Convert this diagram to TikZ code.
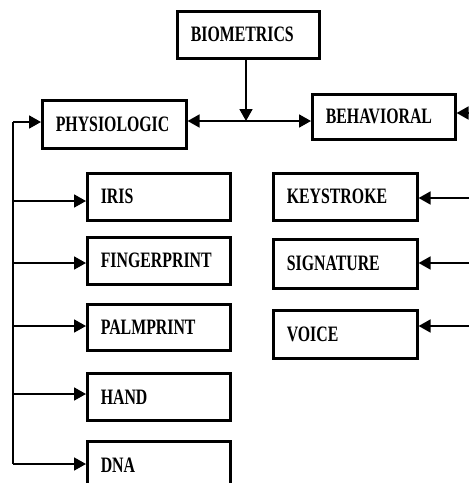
\documentclass[tikz,border=0pt]{standalone}
\usepackage{fontspec}
\newfontfamily\boxfont{Liberation Serif}[FakeStretch=0.72]
\usetikzlibrary{arrows.meta}
\begin{document}
\begin{tikzpicture}[x=1pt,y=-1pt,
  catbox/.style n args={2}{draw, line width=2.6pt, anchor=north west,
    minimum height=#2, text width=#1-27pt, inner xsep=13.5pt, inner ysep=0pt,
    align=left, font=\boxfont\bfseries\fontsize{22}{24}\selectfont},
  link/.style={line width=1.8pt, -{Triangle[length=12pt,width=13pt]}},
  plain/.style={line width=1.8pt}]
\useasboundingbox (0,0) rectangle (469,483);

% top level
\node[catbox={142pt}{47pt}] (bio) at (176,10) {BIOMETRICS};
\node[catbox={144pt}{48pt}] (phys) at (41,99) {PHYSIOLOGIC};
\node[catbox={143pt}{45pt}] (behav) at (311,93) {BEHAVIORAL};

% physiological traits
\node[catbox={143pt}{47pt}] (iris) at (86,172) {IRIS};
\node[catbox={143pt}{47pt}] (finger) at (86,236) {FINGERPRINT};
\node[catbox={143pt}{46pt}] (palm) at (86,303) {PALMPRINT};
\node[catbox={143pt}{47pt}] (hand) at (86,372) {HAND};
\node[catbox={143pt}{47pt}] (dna) at (86,440) {DNA};

% behavioural traits
\node[catbox={144pt}{47pt}] (key) at (272,172) {KEYSTROKE};
\node[catbox={144pt}{49pt}] (sig) at (272,238) {SIGNATURE};
\node[catbox={144pt}{48pt}] (voice) at (272,309) {VOICE};

% split from the root
\coordinate (split) at (246,121);
\draw[link] (bio.south -| split) -- (split);
\draw[link] (split) -- (phys.east |- split);
\draw[link] (split) -- (behav.west |- split);

% left bus feeding the physiological traits
\coordinate (busTop) at (13,122);
\coordinate (busIris) at (13,201);
\coordinate (busFinger) at (13,263);
\coordinate (busPalm) at (13,326);
\coordinate (busHand) at (13,394);
\coordinate (busDna) at (13,464);
\draw[plain] (busTop) -- (busDna);
\draw[link] (busTop) -- (phys.west |- busTop);
\draw[link] (busIris) -- (iris.west |- busIris);
\draw[link] (busFinger) -- (finger.west |- busFinger);
\draw[link] (busPalm) -- (palm.west |- busPalm);
\draw[link] (busHand) -- (hand.west |- busHand);
\draw[link] (busDna) -- (dna.west |- busDna);

% feeds entering from the right edge
\coordinate (inBehav) at (469,113);
\coordinate (inKey) at (469,198);
\coordinate (inSig) at (469,263);
\coordinate (inVoice) at (469,326);
\draw[link] (inBehav) -- (behav.east |- inBehav);
\draw[link] (inKey) -- (key.east |- inKey);
\draw[link] (inSig) -- (sig.east |- inSig);
\draw[link] (inVoice) -- (voice.east |- inVoice);
\end{tikzpicture}
\end{document}
